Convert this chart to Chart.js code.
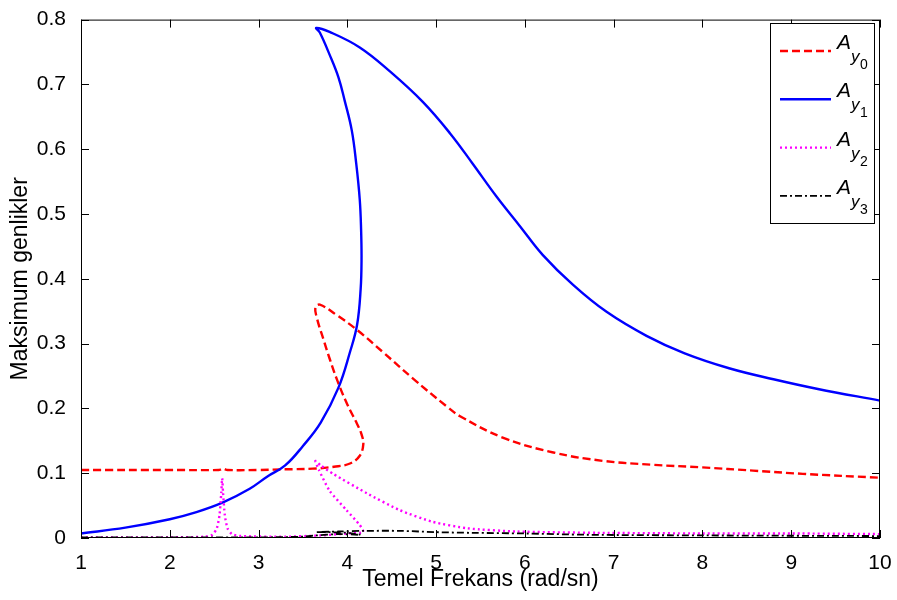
<!DOCTYPE html>
<html>
<head>
<meta charset="utf-8">
<script src="https://cdn.jsdelivr.net/npm/chart.js@4"></script>
<style>
  html, body { margin: 0; padding: 0; background: #fff; }
  #wrap { width: 897px; height: 600px; }
</style>
</head>
<body>
<div id="wrap"><canvas id="chart" width="897" height="600"></canvas></div>
<script>
// Curves are listed in order along each branch (they fold back, so x is not monotone)
const freqY0 = [1.0, 2.0, 2.55, 2.6, 2.65, 3.0, 3.3, 3.61, 3.85, 4.03, 4.14, 4.18, 4.16, 4.11, 4.0, 3.89, 3.8, 3.73, 3.66, 3.64, 3.69, 3.88, 4.11, 4.4, 4.74, 5.12, 5.27, 5.75, 6.32, 6.88, 7.44, 8.0, 8.57, 9.13, 10.0];
const ampY0  = [0.105, 0.105, 0.105, 0.107, 0.105, 0.105, 0.106, 0.107, 0.110, 0.115, 0.127, 0.145, 0.160, 0.176, 0.206, 0.242, 0.277, 0.307, 0.338, 0.356, 0.360, 0.344, 0.321, 0.287, 0.246, 0.203, 0.188, 0.155, 0.132, 0.119, 0.113, 0.109, 0.104, 0.099, 0.093];

const freqY1 = [1.0, 1.5, 2.0, 2.3, 2.6, 2.9, 3.1, 3.3, 3.5, 3.7, 3.9, 4.03, 4.11, 4.15, 4.16, 4.155, 4.14, 4.10, 4.05, 3.97, 3.90, 3.80, 3.69, 3.65, 3.80, 4.14, 4.48, 4.85, 5.16, 5.41, 5.68, 5.94, 6.20, 6.54, 6.92, 7.37, 7.8, 8.3, 8.8, 9.3, 10.0];
const ampY1  = [0.007, 0.016, 0.029, 0.040, 0.055, 0.076, 0.095, 0.112, 0.142, 0.178, 0.232, 0.287, 0.329, 0.384, 0.430, 0.476, 0.522, 0.578, 0.629, 0.675, 0.711, 0.746, 0.780, 0.787, 0.781, 0.757, 0.720, 0.673, 0.624, 0.578, 0.527, 0.482, 0.437, 0.391, 0.349, 0.312, 0.285, 0.262, 0.245, 0.230, 0.212];

const freqY2 = [1.0, 2.0, 2.4, 2.48, 2.53, 2.56, 2.58, 2.59, 2.6, 2.62, 2.65, 2.7, 2.8, 3.3, 3.7, 4.0, 4.18, 4.14, 3.99, 3.8, 3.68, 3.64, 3.7, 3.84, 4.22, 4.59, 4.96, 5.35, 5.91, 6.81, 8.0, 9.0, 10.0];
const ampY2  = [0.001, 0.001, 0.002, 0.005, 0.015, 0.035, 0.070, 0.092, 0.070, 0.035, 0.015, 0.006, 0.003, 0.002, 0.004, 0.007, 0.009, 0.020, 0.043, 0.073, 0.105, 0.119, 0.112, 0.099, 0.069, 0.043, 0.025, 0.015, 0.010, 0.008, 0.007, 0.007, 0.006];

const freqY3 = [1.0, 3.0, 3.5, 3.65, 3.9, 4.15, 4.0, 3.8, 3.65, 3.9, 4.2, 4.6, 5.0, 5.4, 6.0, 6.7, 8.0, 10.0];
const ampY3  = [0.001, 0.001, 0.002, 0.004, 0.006, 0.005, 0.008, 0.009, 0.009, 0.010, 0.011, 0.011, 0.009, 0.008, 0.007, 0.005, 0.004, 0.003];

const xTicks = [1, 2, 3, 4, 5, 6, 7, 8, 9, 10];
const yTicks = [0, 0.1, 0.2, 0.3, 0.4, 0.5, 0.6, 0.7, 0.8];
const legendSubs = ['0', '1', '2', '3'];

const FONT = "'Liberation Sans', Arial, Helvetica, sans-serif";

const pts = (xs, ys) => xs.map((v, i) => ({ x: v, y: ys[i] }));

const series = [
  { data: pts(freqY0, ampY0), color: '#ff0000', dash: [8, 4], width: 2.4, tension: 0.4 },
  { data: pts(freqY1, ampY1), color: '#0000ff', dash: [], width: 2.4, tension: 0.4 },
  { data: pts(freqY2, ampY2), color: '#ff00ff', dash: [2, 3], width: 2.4, tension: 0.2 },
  { data: pts(freqY3, ampY3), color: '#000000', dash: [7, 3, 2, 3], width: 1.8, tension: 0.3 }
];

// MATLAB style box, inward ticks on all sides, and the legend with subscripts
const matlabFrame = {
  id: 'matlabFrame',
  afterDraw(chart) {
    const { ctx, chartArea: a, scales: { x, y } } = chart;
    const len = 8;
    ctx.save();
    ctx.strokeStyle = '#000';
    ctx.lineWidth = 1;
    ctx.strokeRect(a.left + 0.5, a.top + 0.5, a.right - a.left - 1, a.bottom - a.top - 1);
    ctx.beginPath();
    xTicks.forEach(v => {
      const px = Math.round(x.getPixelForValue(v)) + 0.5;
      ctx.moveTo(px, a.bottom); ctx.lineTo(px, a.bottom - len);
      ctx.moveTo(px, a.top); ctx.lineTo(px, a.top + len);
    });
    yTicks.forEach(v => {
      const py = Math.round(y.getPixelForValue(v)) + 0.5;
      ctx.moveTo(a.left, py); ctx.lineTo(a.left + len, py);
      ctx.moveTo(a.right, py); ctx.lineTo(a.right - len, py);
    });
    ctx.stroke();

    // legend
    const bx = 770, by = 23, bw = 104, bh = 200;
    ctx.fillStyle = '#fff';
    ctx.fillRect(bx, by, bw, bh);
    ctx.strokeRect(bx + 0.5, by + 0.5, bw, bh);
    series.forEach((s, i) => {
      const ly = 51 + i * 48.3;
      ctx.beginPath();
      ctx.strokeStyle = s.color;
      ctx.lineWidth = s.width;
      ctx.setLineDash(s.dash);
      ctx.moveTo(780, ly); ctx.lineTo(831, ly);
      ctx.stroke();
      ctx.setLineDash([]);
      ctx.fillStyle = '#000';
      ctx.textBaseline = 'alphabetic';
      ctx.textAlign = 'left';
      ctx.font = `italic 21px ${FONT}`;
      ctx.fillText('A', 837, ly - 2);
      ctx.font = `italic 17px ${FONT}`;
      ctx.fillText('y', 851, ly + 11);
      ctx.font = `14px ${FONT}`;
      ctx.fillText(legendSubs[i], 860, ly + 18);
    });
    ctx.restore();
  }
};

new Chart(document.getElementById('chart'), {
  type: 'scatter',
  data: {
    datasets: series.map((s, i) => ({
      label: 'A_y' + legendSubs[i],
      data: s.data,
      showLine: true,
      borderColor: s.color,
      backgroundColor: s.color,
      borderWidth: s.width,
      borderDash: s.dash,
      pointRadius: 0,
      tension: s.tension,
      order: 4 - i
    }))
  },
  options: {
    responsive: false,
    animation: false,
    devicePixelRatio: 1,
    layout: { padding: { top: 15, right: 17, left: 0, bottom: 0 } },
    plugins: { legend: { display: false }, tooltip: { enabled: false } },
    scales: {
      x: {
        type: 'linear',
        min: 1, max: 10,
        afterBuildTicks: s => { s.ticks = xTicks.map(v => ({ value: v })); },
        afterFit: s => { s.height = 62; },
        grid: { display: false },
        border: { display: false },
        ticks: { color: '#000', font: { family: FONT, size: 21 }, padding: 5, maxRotation: 0 },
        title: { display: true, text: 'Temel Frekans (rad/sn)', color: '#000', font: { family: FONT, size: 23 }, padding: { top: 0, bottom: 7 } }
      },
      y: {
        type: 'linear',
        min: 0, max: 0.8,
        afterBuildTicks: s => { s.ticks = yTicks.map(v => ({ value: v })); },
        afterFit: s => { s.width = 81; },
        grid: { display: false },
        border: { display: false },
        ticks: { color: '#000', font: { family: FONT, size: 21 }, padding: 7, callback: v => String(+v.toFixed(1)) },
        title: { display: true, text: 'Maksimum genlikler', color: '#000', font: { family: FONT, size: 23 }, padding: { top: 7, bottom: 0 } }
      }
    }
  },
  plugins: [matlabFrame]
});
</script>
</body>
</html>
